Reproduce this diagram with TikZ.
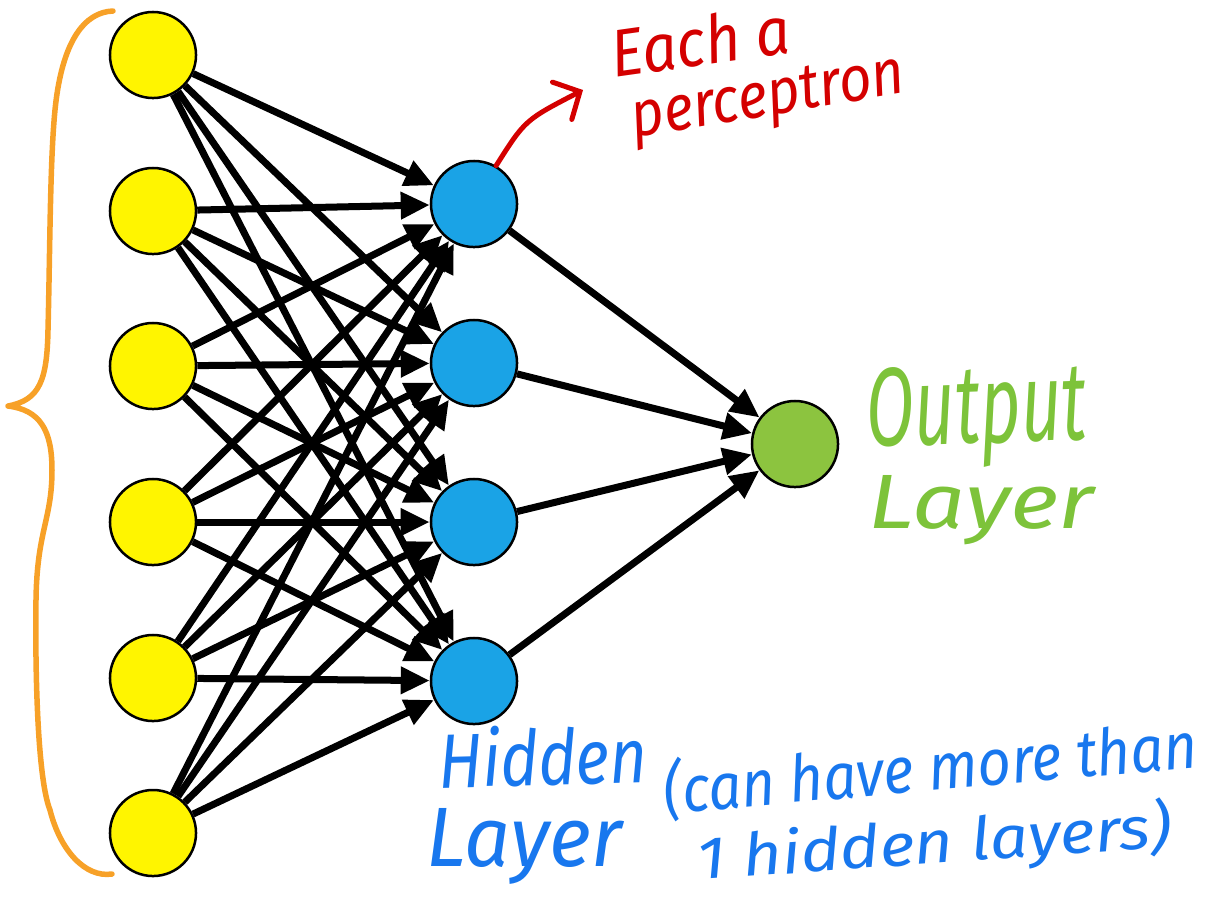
\documentclass[tikz,border=0pt]{standalone}
\usepackage{fontspec}
\usepackage{graphicx}
\usetikzlibrary{arrows.meta}
\newfontfamily\handfont{Fira Sans}
\definecolor{inyellow}{HTML}{FFF500}
\definecolor{hidblue}{HTML}{1AA3E6}
\definecolor{outgreen}{HTML}{8CC43F}
\definecolor{noteRed}{HTML}{D40000}
\definecolor{noteGreen}{HTML}{7DC33A}
\definecolor{noteBlue}{HTML}{1877EE}
\definecolor{braceOrange}{HTML}{F7A128}
% handwritten-style label scaled to a given width and height
\newcommand{\handlabel}[3]{\resizebox{#1}{#2}{\handfont\itshape #3}}
\tikzset{
  neuron/.style={circle, draw=black, line width=0.025cm, minimum size=0.86cm, inner sep=0pt},
  inputn/.style={neuron, fill=inyellow},
  hiddenn/.style={neuron, fill=hidblue},
  outputn/.style={neuron, fill=outgreen},
  conn/.style={line width=0.07cm, black, -{Triangle[length=0.29cm,width=0.26cm]}},
  note/.style={inner sep=0pt, anchor=base west},
}
\begin{document}
\begin{tikzpicture}[x=0.01cm, y=-0.01cm]
\useasboundingbox (0,0) rectangle (1207,896);

% input layer
\foreach \n/\yy in {1/55, 2/211, 3/366, 4/522, 5/678, 6/833}
  \node[inputn] (in\n) at (153,\yy) {};
% hidden layer
\foreach \n/\yy in {1/204, 2/363, 3/522, 4/681}
  \node[hiddenn] (hid\n) at (474,\yy) {};
% output layer
\node[outputn] (out) at (795,444) {};

% fully connected edges
\foreach \i in {1,...,6}
  \foreach \j in {1,...,4}
    \draw[conn] (in\i) -- (hid\j);
\foreach \j in {1,...,4}
  \draw[conn] (hid\j) -- (out);

% brace around the input layer
\draw[braceOrange, line width=0.055cm, line cap=round, line join=round]
  (113,11) .. controls (85,12) and (62,40) .. (55,110)
  .. controls (50,160) and (50,250) .. (48,330)
  .. controls (47,380) and (40,400) .. (8,406)
  .. controls (40,410) and (52,430) .. (52,470)
  .. controls (52,520) and (37,530) .. (36,600)
  .. controls (35,680) and (38,780) .. (50,810)
  .. controls (60,850) and (85,878) .. (112,874);

% note on the hidden units
\coordinate (tipRed) at (583,90);
\draw[noteRed, line width=0.05cm, line cap=round,
      -{Straight Barb[length=0.2cm,width=0.42cm,line cap=round]}]
  (hid1.60) .. controls (525,120) .. (tipRed);
\node[note, noteRed, rotate=8] (each) at (614,78) {\handlabel{1.8cm}{0.5cm}{Each a}};
\node[note, noteRed, rotate=9.5] (percep) at (634,138) {\handlabel{2.76cm}{0.42cm}{perceptron}};

% output label
\node[note, noteGreen, rotate=2] (outA) at (867,447) {\handlabel{2.2cm}{0.78cm}{Output}};
\node[note, noteGreen] (outB) at (868,528) {\handlabel{2.25cm}{0.53cm}{Layer}};

% hidden label
\node[note, noteBlue, rotate=1.5] (hidA) at (439,788) {\handlabel{2.08cm}{0.6cm}{Hidden}};
\node[note, noteBlue] (hidB) at (426,866) {\handlabel{1.95cm}{0.58cm}{Layer}};
\node[note, noteBlue, rotate=5] (hidC) at (665,814) {\handlabel{5.35cm}{0.55cm}{(can have more than}};
\node[note, noteBlue, rotate=4] (hidD) at (698,880) {\handlabel{4.75cm}{0.5cm}{1 hidden layers)}};
\end{tikzpicture}
\end{document}
